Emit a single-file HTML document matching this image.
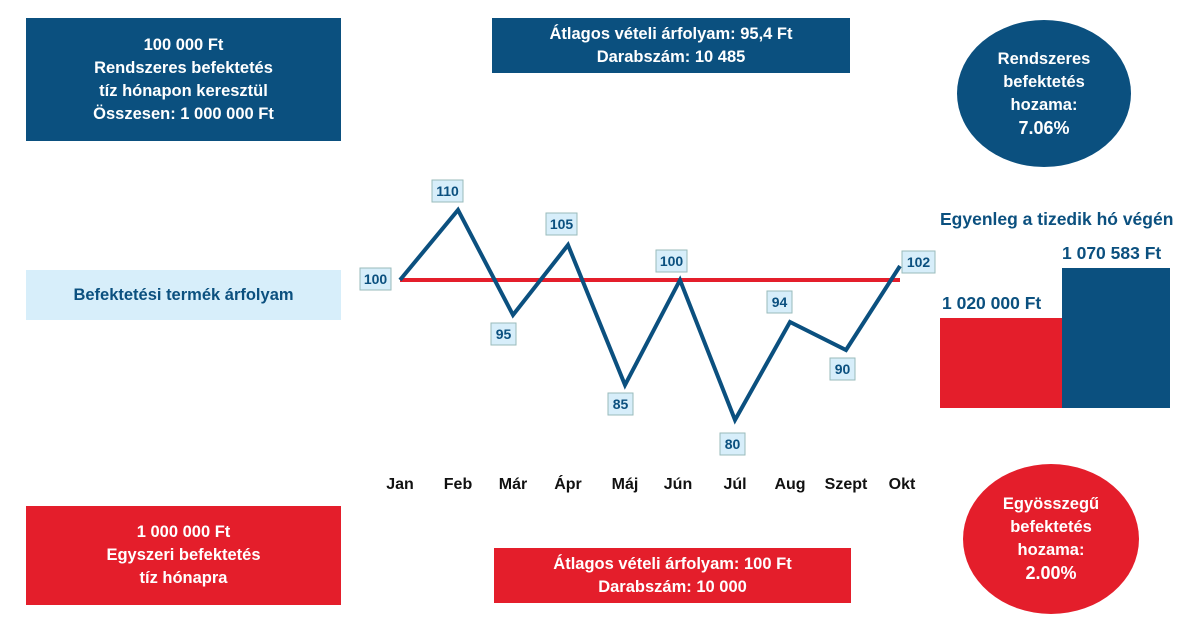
<!DOCTYPE html>
<html><head><meta charset="utf-8"><style>
body{margin:0;width:1200px;height:628px;background:#fff;position:relative;overflow:hidden;font-family:"Liberation Sans",sans-serif;font-weight:bold}
.b{position:absolute;color:#fff;text-align:center;font-size:16.5px;line-height:23px;display:flex;flex-direction:column;justify-content:center}
.n{background:#0b507f}.r{background:#e41e2b}
</style></head><body>
<div class="b n" style="left:26px;top:18px;width:315px;height:123px">100 000 Ft<br>Rendszeres befektetés<br>tíz hónapon keresztül<br>Összesen: 1 000 000 Ft</div>
<div class="b n" style="left:492px;top:18px;width:358px;height:55px">Átlagos vételi árfolyam: 95,4 Ft<br>Darabszám: 10 485</div>
<div class="b n" style="left:957px;top:20px;width:174px;height:147px;border-radius:50%">Rendszeres<br>befektetés<br>hozama:<br><span style="font-size:18px">7.06%</span></div>
<div class="b" style="left:26px;top:270px;width:315px;height:50px;background:#d7eefa;color:#0b507f">Befektetési termék árfolyam</div>
<div class="b r" style="left:26px;top:506px;width:315px;height:99px">1 000 000 Ft<br>Egyszeri befektetés<br>tíz hónapra</div>
<div class="b r" style="left:494px;top:548px;width:357px;height:55px">Átlagos vételi árfolyam: 100 Ft<br>Darabszám: 10 000</div>
<div class="b r" style="left:963px;top:464px;width:176px;height:150px;border-radius:50%">Egyösszegű<br>befektetés<br>hozama:<br><span style="font-size:18px">2.00%</span></div>
<div style="position:absolute;left:940px;top:209px;width:260px;color:#0b507f;font-size:17.5px">Egyenleg a tizedik hó végén</div>
<div style="position:absolute;left:1062px;top:243px;color:#0b507f;font-size:17.5px">1 070 583 Ft</div>
<div style="position:absolute;left:942px;top:293px;color:#0b507f;font-size:17.5px">1 020 000 Ft</div>
<div class="r" style="position:absolute;left:940px;top:318px;width:122px;height:90px"></div>
<div class="n" style="position:absolute;left:1062px;top:268px;width:108px;height:140px"></div>
<svg width="1200" height="628" style="position:absolute;left:0;top:0" font-family="Liberation Sans,sans-serif" font-weight="bold">
<line x1="400" y1="280" x2="900" y2="280" stroke="#e41e2b" stroke-width="4"/>
<polyline fill="none" stroke="#0b507f" stroke-width="4" stroke-linejoin="miter" points="400,280 458,210 513,315 568,245 625,385 680,280 735,420 790,322 846,350 900,266"/>
<g fill="#d7eefa" stroke="#9bb" stroke-width="1">
<rect x="360" y="268" width="31" height="22"/><rect x="432" y="180" width="31" height="22"/><rect x="491" y="323" width="25" height="22"/><rect x="546" y="213" width="31" height="22"/><rect x="608" y="393" width="25" height="22"/><rect x="656" y="250" width="31" height="22"/><rect x="720" y="433" width="25" height="22"/><rect x="767" y="291" width="25" height="22"/><rect x="830" y="358" width="25" height="22"/><rect x="902" y="251" width="33" height="22"/>
</g>
<g fill="#0b507f" font-size="14" text-anchor="middle">
<text x="375.5" y="284">100</text><text x="447.5" y="196">110</text><text x="503.5" y="339">95</text><text x="561.5" y="229">105</text><text x="620.5" y="409">85</text><text x="671.5" y="266">100</text><text x="732.5" y="449">80</text><text x="779.5" y="307">94</text><text x="842.5" y="374">90</text><text x="918.5" y="267">102</text>
</g>
<g fill="#111" font-size="16" text-anchor="middle">
<text x="400" y="489">Jan</text><text x="458" y="489">Feb</text><text x="513" y="489">Már</text><text x="568" y="489">Ápr</text><text x="625" y="489">Máj</text><text x="678" y="489">Jún</text><text x="735" y="489">Júl</text><text x="790" y="489">Aug</text><text x="846" y="489">Szept</text><text x="902" y="489">Okt</text>
</g>
</svg>
</body></html>
